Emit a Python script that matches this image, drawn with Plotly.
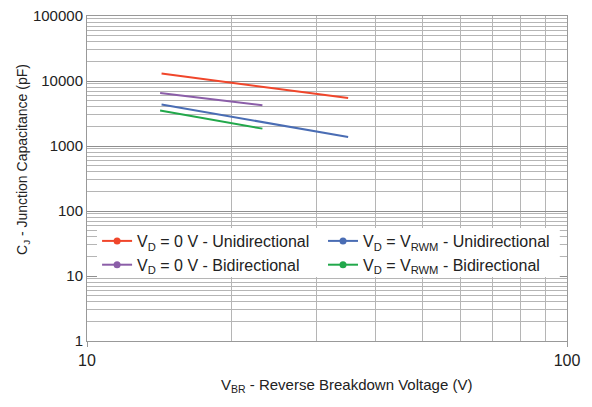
import plotly.graph_objects as go

# Data
vbr_uni = [14.3, 35.0]
vbr_bi = [14.2, 23.2]
cj_0v_uni = [13000, 5470]
cj_rwm_uni = [4340, 1375]
cj_0v_bi = [6530, 4230]
cj_rwm_bi = [3510, 1850]

y_tickvals = [1, 10, 100, 1000, 10000, 100000]
y_ticktext = ["1", "10", "100", "1000", "10000", "100000"]
x_tickvals = [10, 100]
x_ticktext = ["10", "100"]

series = [
    ("V<sub>D</sub> = 0 V - Unidirectional", vbr_uni, cj_0v_uni, "#f0462b", "legend"),
    ("V<sub>D</sub> = 0 V - Bidirectional", vbr_bi, cj_0v_bi, "#8b5ea8", "legend"),
    ("V<sub>D</sub> = V<sub>RWM</sub> - Unidirectional", vbr_uni, cj_rwm_uni, "#4a6db4", "legend2"),
    ("V<sub>D</sub> = V<sub>RWM</sub> - Bidirectional", vbr_bi, cj_rwm_bi, "#22a84b", "legend2"),
]

FONT = "Liberation Sans, Arial, sans-serif"
TXT = "#222"

fig = go.Figure()
for name, xs, ys, col, lg in series:
    fig.add_trace(go.Scatter(x=xs, y=ys, mode="lines", line=dict(color=col, width=2),
                             showlegend=False, name=name))
for name, xs, ys, col, lg in series:
    fig.add_trace(go.Scatter(x=[None], y=[None], mode="lines+markers", name=name, legend=lg,
                             line=dict(color=col, width=2), marker=dict(color=col, size=7)))

grid_major = "#8f8f8f"
grid_minor = "#b5b5b5"

legend_style = dict(xanchor="left", yanchor="top", bgcolor="rgba(0,0,0,0)", borderwidth=0,
                    font=dict(family=FONT, size=16, color=TXT), tracegroupgap=0,
                    traceorder="normal", orientation="v")

# page body has an 8px margin, so the figure is sized to fit inside the window
fig.update_layout(
    width=584, height=399,
    margin=dict(l=79, r=25, t=8, b=66),
    paper_bgcolor="white", plot_bgcolor="white",
    font=dict(family=FONT, size=15, color=TXT),
    legend=dict(x=0.021, y=0.36, **legend_style),
    legend2=dict(x=0.4917, y=0.36, **legend_style),
    xaxis=dict(type="log", range=[1, 2], tickvals=x_tickvals, ticktext=x_ticktext,
               automargin=False, ticklabeloverflow="allow",
               showgrid=True, gridcolor=grid_minor, gridwidth=1,
               minor=dict(tickmode="linear", dtick="D1", showgrid=True, gridcolor=grid_minor, gridwidth=1, ticklen=0),
               showline=True, linecolor="#999", linewidth=1, mirror=True,
               ticks="outside", ticklen=5, tickcolor="#999",
               tickfont=dict(family=FONT, size=16, color=TXT),
               zeroline=False),
    yaxis=dict(type="log", range=[0, 5], tickvals=y_tickvals, ticktext=y_ticktext,
               automargin=False, ticklabeloverflow="allow",
               showgrid=True, gridcolor=grid_major, gridwidth=1,
               minor=dict(tickmode="linear", dtick="D1", showgrid=True, gridcolor=grid_minor, gridwidth=1, ticklen=0),
               showline=True, linecolor="#999", linewidth=1, mirror=True,
               ticks="", ticklen=0,
               tickfont=dict(family=FONT, size=15, color=TXT),
               zeroline=False),
    shapes=[
        # white background behind the two legend columns
        dict(type="rect", xref="paper", yref="paper", x0=0.0208, x1=0.985, y0=0.197, y1=0.348,
             fillcolor="white", line=dict(width=0), layer="above"),
    ],
    annotations=[
        dict(text="V<sub>BR</sub> - Reverse Breakdown Voltage (V)", xref="paper", yref="paper",
             x=0.54, y=0, yshift=-44, xanchor="center", yanchor="middle", showarrow=False,
             font=dict(family=FONT, size=15, color=TXT)),
        dict(text="C<sub>J</sub> - Junction Capacitance (pF)", xref="paper", yref="paper",
             x=0, xshift=-64, y=0.557, xanchor="center", yanchor="middle", showarrow=False,
             textangle=-90, font=dict(family=FONT, size=14, color=TXT)),
    ],
)

fig.write_html("out.html")
